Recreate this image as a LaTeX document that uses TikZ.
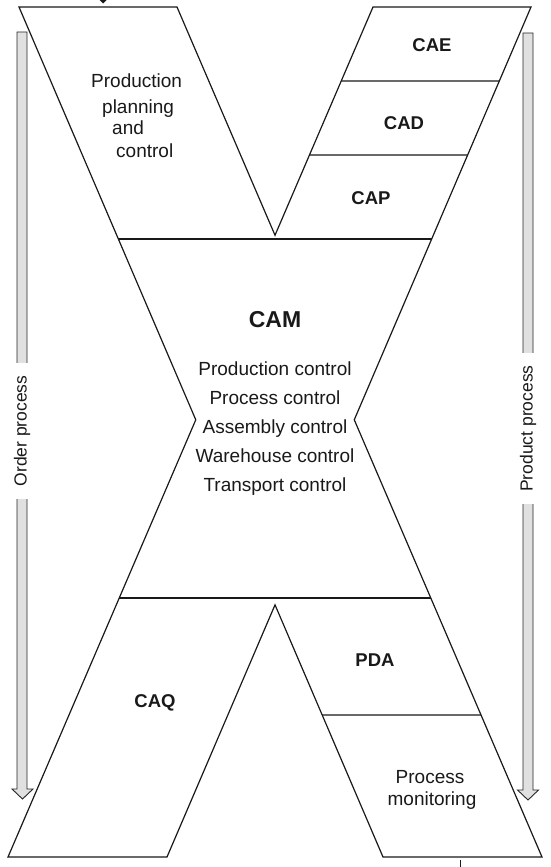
\documentclass[tikz,border=0pt]{standalone}
\usepackage{fontspec}
\setmainfont{Liberation Sans}
\begin{document}
\begin{tikzpicture}[x=1pt,y=-1pt,
  outline/.style={line width=1.2pt, line join=miter, draw=black!90},
  sepline/.style={line width=1.2pt, draw=black!90},
  flow/.style={draw=black!85, line width=0.9pt, fill=black!12},
  lbl/.style={font=\fontsize{19}{23}\selectfont, inner sep=0pt, anchor=base, text=black!90},
  blbl/.style={font=\fontsize{18.5}{22}\selectfont\bfseries, inner sep=0pt, anchor=base, text=black!90},
  side/.style={font=\fontsize{17.5}{20}\selectfont, rotate=90, fill=white, inner xsep=12.5pt, inner ysep=3pt, text=black!90}
]
\useasboundingbox (0,0) rectangle (551,867);

% the two strokes of the X
\coordinate (a1) at (19,7);  \coordinate (a2) at (383,857);
\coordinate (b1) at (177,7); \coordinate (b2) at (542,857);
\coordinate (c1) at (373,7); \coordinate (c2) at (8,857);
\coordinate (d1) at (531,7); \coordinate (d2) at (167,857);

\coordinate (vt) at (intersection of b1--b2 and c1--c2);
\coordinate (wl) at (intersection of a1--a2 and c1--c2);
\coordinate (wr) at (intersection of b1--b2 and d1--d2);
\coordinate (vb) at (intersection of a1--a2 and d1--d2);

\draw[outline] (a1) -- (b1) -- (vt) -- (c1) -- (d1) -- (wr) -- (b2) -- (a2)
  -- (vb) -- (d2) -- (c2) -- (wl) -- cycle;

% horizontal helper lines
\foreach \n/\yy in {h1/239, h2/598, h3/81, h4/155, h5/715}{
  \coordinate (\n l) at (0,\yy);
  \coordinate (\n r) at (551,\yy);
}
\draw[sepline] (intersection of a1--a2 and h1l--h1r) -- (intersection of d1--d2 and h1l--h1r);
\draw[sepline] (intersection of c1--c2 and h2l--h2r) -- (intersection of b1--b2 and h2l--h2r);
\draw[sepline] (intersection of c1--c2 and h3l--h3r) -- (intersection of d1--d2 and h3l--h3r);
\draw[sepline] (intersection of c1--c2 and h4l--h4r) -- (intersection of d1--d2 and h4l--h4r);
\draw[sepline] (intersection of a1--a2 and h5l--h5r) -- (intersection of b1--b2 and h5l--h5r);

% cut-off marks at top and bottom
\fill[black!90] (99.5,0) -- (106.5,0) -- (103,3.5) -- cycle;
\draw[line width=1pt, black!90] (460,860) -- (460,867);

% process arrows
\draw[flow] (17,32) -- (27,32) -- (27,789) -- (33,789) -- (22.5,799) -- (12,789) -- (17,789) -- cycle;
\draw[flow] (523,33) -- (533,33) -- (533,790) -- (538.5,790) -- (528,800) -- (517.5,790) -- (523,790) -- cycle;
\node[side] (order) at (22,431) {Order process};
\node[side] (product) at (528,428.5) {Product process};

% texts
\node[lbl, anchor=base west] (pp1) at (91,88) {Production};
\node[lbl, anchor=base west] (pp2) at (102,113) {planning};
\node[lbl, anchor=base west] (pp3) at (112,134) {and};
\node[lbl, anchor=base west] (pp4) at (116,157) {control};

\node[blbl] (cae) at (432,52) {CAE};
\node[blbl] (cad) at (404,129) {CAD};
\node[blbl] (cap) at (371,204) {CAP};

\node[blbl, font=\fontsize{23}{26}\selectfont\bfseries] (cam) at (275,327) {CAM};
\node[lbl] (l1) at (275,375) {Production control};
\node[lbl] (l2) at (275,404) {Process control};
\node[lbl] (l3) at (275,433) {Assembly control};
\node[lbl] (l4) at (275,462) {Warehouse control};
\node[lbl] (l5) at (275,491) {Transport control};

\node[blbl] (caq) at (155,707) {CAQ};
\node[blbl] (pda) at (375,666) {PDA};
\node[lbl] (pm1) at (430,783) {Process};
\node[lbl] (pm2) at (432,805) {monitoring};
\end{tikzpicture}
\end{document}
